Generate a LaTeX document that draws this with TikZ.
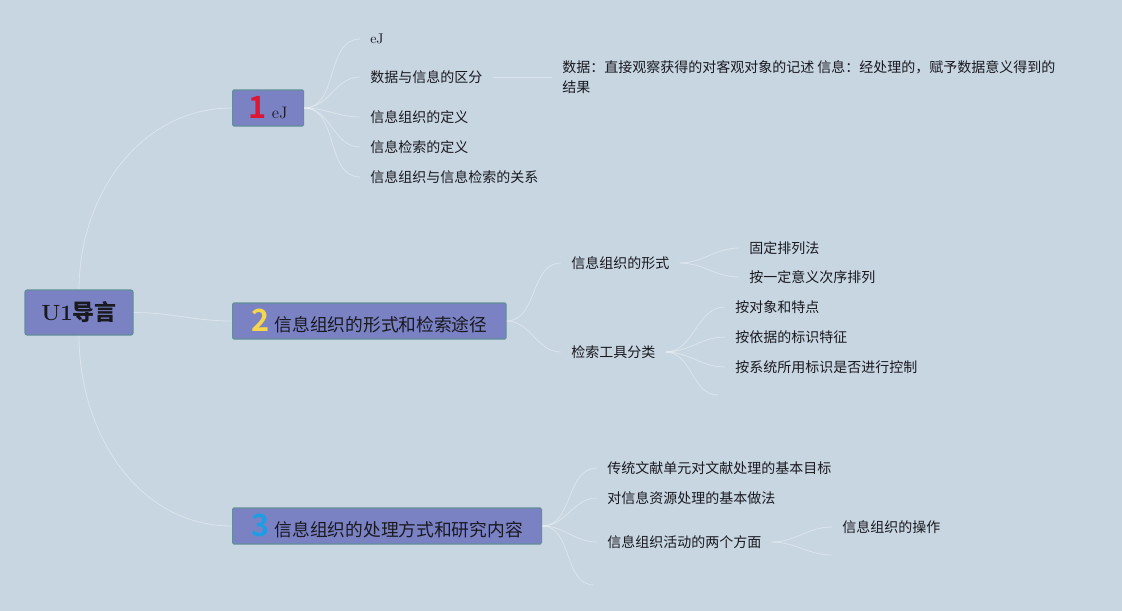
\documentclass[tikz,border=0pt]{standalone}
\usepackage{fontspec}
\usepackage{xcolor}
\usepackage{tikz}

\newfontfamily\cjk{Noto Sans CJK SC}
\newfontfamily\cjkb{Noto Sans CJK SC Bold}

\definecolor{bgblue}{RGB}{200,214,226}
\definecolor{boxfill}{RGB}{123,130,196}
\definecolor{boxline}{RGB}{98,142,152}
\definecolor{numred}{RGB}{222,22,52}
\definecolor{numyellow}{RGB}{246,214,76}
\definecolor{numblue}{RGB}{32,156,226}
\definecolor{ink}{RGB}{25,25,32}

\tikzset{
  topic/.style={draw=boxline, fill=boxfill, line width=0.8pt, rounded corners=1pt,
    anchor=west, inner xsep=14pt, minimum height=27pt, text=ink,
    font=\cjk\fontsize{13.3}{16}\selectfont},
  leaf/.style={anchor=west, inner xsep=7.5pt, inner ysep=1.5pt, text=ink,
    font=\cjk\fontsize{10.5}{15}\selectfont},
  link/.style={draw=white, opacity=0.35, line width=0.6pt},
}
\newcommand{\bignum}[2]{{\cjkb\fontsize{23}{23}\selectfont\color{#1}#2}\hspace{4pt}}

\begin{document}
\begin{tikzpicture}[x=0.75pt, y=-0.75pt]

  \fill[bgblue] (0,0) rectangle (1122,611);
  \useasboundingbox (0,0) rectangle (1122,611);

  \node[draw=boxline, fill=boxfill, line width=0.8pt, rounded corners=1.5pt,
    minimum width=81pt, minimum height=33.75pt, text=ink] (root) at (79,312.5)
    {\fontsize{16.5}{18}\selectfont\bfseries U1{\cjkb 导言}};

  \node[topic, inner xsep=12pt] (t1) at (232,108) {\bignum{numred}{1}{\rmfamily\fontsize{12.5}{16}\selectfont eJ}};
  \node[topic] (t2) at (232,321) {\bignum{numyellow}{2}信息组织的形式和检索途径};
  \node[topic] (t3) at (232,526) {\bignum{numblue}{3}信息组织的处理方式和研究内容};

  \node[leaf, font=\rmfamily\fontsize{10.5}{15}\selectfont] (t1a) at (360,39) {eJ};
  \node[leaf] (t1b) at (360,77) {数据与信息的区分};
  \node[leaf] (t1c) at (360,117) {信息组织的定义};
  \node[leaf] (t1d) at (360,147) {信息检索的定义};
  \node[leaf] (t1e) at (360,177) {信息组织与信息检索的关系};
  \node[leaf, anchor=north west, align=left] (d1) at (552,58)
    {数据：直接观察获得的对客观对象的记述 信息：经处理的，赋予数据意义得到的\\结果};

  \node[leaf] (t2a) at (561,263) {信息组织的形式};
  \node[leaf] (t2b) at (561,352) {检索工具分类};
  \node[leaf] (t2a1) at (739,248) {固定排列法};
  \node[leaf] (t2a2) at (739,277) {按一定意义次序排列};
  \node[leaf] (t2b1) at (725,307) {按对象和特点};
  \node[leaf] (t2b2) at (725,337) {按依据的标识特征};
  \node[leaf] (t2b3) at (725,367) {按系统所用标识是否进行控制};
  \coordinate (t2bx) at (718,395);

  \node[leaf] (t3a) at (597,468) {传统文献单元对文献处理的基本目标};
  \node[leaf] (t3b) at (597,498) {对信息资源处理的基本做法};
  \node[leaf] (t3c) at (597,542) {信息组织活动的两个方面};
  \coordinate (t3x) at (594,585);
  \node[leaf] (t3c1) at (832,527) {信息组织的操作};
  \coordinate (t3cx) at (832,555);

  \draw[link] (root.north) to[out=90,in=180] (t1.west);
  \draw[link] (root.east) to[out=0,in=180] (t2.west);
  \draw[link] (root.south) to[out=-90,in=180] (t3.west);

  \foreach \c in {t1a,t1b,t1c,t1d,t1e}
    \draw[link] (t1.east) to[out=0,in=180] (\c.west);
  \draw[link] (t1b.east) -- (t1b.east -| d1.west);

  \foreach \c in {t2a,t2b}
    \draw[link] (t2.east) to[out=0,in=180] (\c.west);
  \foreach \c in {t2a1,t2a2}
    \draw[link] (t2a.east) to[out=0,in=180] (\c.west);
  \foreach \c in {t2b1,t2b2,t2b3}
    \draw[link] (t2b.east) to[out=0,in=180] (\c.west);
  \draw[link] (t2b.east) to[out=0,in=180] (t2bx);

  \foreach \c in {t3a,t3b,t3c}
    \draw[link] (t3.east) to[out=0,in=180] (\c.west);
  \draw[link] (t3.east) to[out=0,in=180] (t3x);
  \draw[link] (t3c.east) to[out=0,in=180] (t3c1.west);
  \draw[link] (t3c.east) to[out=0,in=180] (t3cx);
\end{tikzpicture}
\end{document}
